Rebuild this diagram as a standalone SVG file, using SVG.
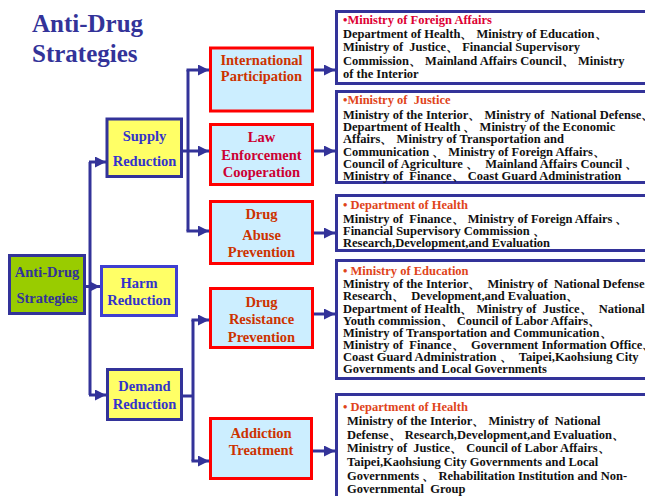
<svg xmlns="http://www.w3.org/2000/svg" width="645" height="496" viewBox="0 0 645 496" font-family="Liberation Serif, Times New Roman, serif" font-weight="bold">
<defs>
<style>
.title{font-size:25px;fill:#333399;}
.yb{fill:#ffff66;stroke:#333399;stroke-width:3;}
.yb2{fill:#ffff66;stroke:#3f3fd0;stroke-width:3;}
.gb{fill:#99cc00;stroke:#333399;stroke-width:3;}
.mb{fill:#cceeff;stroke:#ff0000;stroke-width:3;}
.rb{fill:#ffffff;stroke:#333399;stroke-width:3;}
.yt{font-size:14.5px;fill:#3333cc;text-anchor:middle;}
.gt{font-size:14.5px;fill:#333399;text-anchor:middle;}
.mt{font-size:14.5px;fill:#cc3300;text-anchor:middle;}
.mt2{font-size:14.5px;fill:#cc0033;text-anchor:middle;}
.rt{font-size:12.5px;fill:#111111;}
.h1{fill:#dd0033;}
.h2{fill:#e0441a;}
.con path{fill:none;stroke:#333399;stroke-width:3;}
.con path.a{marker-end:url(#arr);}
</style>
<marker id="arr" markerUnits="userSpaceOnUse" markerWidth="11" markerHeight="11" refX="11" refY="5.5" orient="auto">
<path d="M0,0 L11,5.5 L0,11 z" fill="#333399"/>
</marker>
</defs>
<rect width="645" height="496" fill="#ffffff"/>
<g id="title">
<text class="title" x="32" y="32">Anti-Drug</text>
<text class="title" x="32" y="62">Strategies</text>
</g>
<g class="con" id="connectors">
<path d="M90,162 V395"/>
<path class="a" d="M89,162 H106"/>
<path class="a" d="M86,286.5 H100"/>
<path class="a" d="M89,395 H106"/>
<path class="a" d="M183,151 H209"/>
<path d="M188,70 V231"/>
<path class="a" d="M186.5,70 H209"/>
<path class="a" d="M186.5,231 H209"/>
<path d="M183,396 H193"/>
<path d="M193,320 V461"/>
<path class="a" d="M191.5,320 H209"/>
<path class="a" d="M191.5,461 H209"/>
<path class="a" d="M314,70 H335"/>
<path class="a" d="M314,151 H335"/>
<path class="a" d="M314,233 H335"/>
<path class="a" d="M314,314 H335"/>
<path class="a" d="M313,451 H335"/>
</g>
<g id="anti-drug">
<rect class="gb" x="9.5" y="255.5" width="75" height="58"/>
<text class="gt" x="47" y="277">Anti-Drug</text>
<text class="gt" x="47" y="303">Strategies</text>
</g>
<g id="supply">
<rect class="yb" x="107" y="119" width="74.5" height="57.5"/>
<text class="yt" x="144.5" y="141">Supply</text>
<text class="yt" x="144.5" y="166">Reduction</text>
</g>
<g id="harm">
<rect class="yb2" x="101.5" y="266.5" width="75" height="49"/>
<text class="yt" x="139" y="288">Harm</text>
<text class="yt" x="139" y="305">Reduction</text>
</g>
<g id="demand">
<rect class="yb" x="107.5" y="369.5" width="74" height="50"/>
<text class="yt" x="144.5" y="391">Demand</text>
<text class="yt" x="144.5" y="409">Reduction</text>
</g>
<g id="international">
<rect class="mb" x="210.5" y="48" width="102" height="63"/>
<text class="mt" x="261.5" y="65">International</text>
<text class="mt" x="261.5" y="81">Participation</text>
</g>
<g id="law">
<rect class="mb" x="210.5" y="124.5" width="102" height="60"/>
<text class="mt2" x="261.5" y="142">Law</text>
<text class="mt2" x="261.5" y="160">Enforcement</text>
<text class="mt2" x="261.5" y="177">Cooperation</text>
</g>
<g id="abuse">
<rect class="mb" x="210.5" y="201.5" width="102" height="62"/>
<text class="mt" x="261.5" y="219">Drug</text>
<text class="mt" x="261.5" y="240">Abuse</text>
<text class="mt" x="261.5" y="257">Prevention</text>
</g>
<g id="resistance">
<rect class="mb" x="210.5" y="288.5" width="102" height="59"/>
<text class="mt" x="261.5" y="307">Drug</text>
<text class="mt" x="261.5" y="324">Resistance</text>
<text class="mt" x="261.5" y="342">Prevention</text>
</g>
<g id="addiction">
<rect class="mb" x="210.5" y="418.5" width="101" height="60"/>
<text class="mt" x="261" y="438">Addiction</text>
<text class="mt" x="261" y="455">Treatment</text>
</g>
<g id="org1">
<rect class="rb" x="336.5" y="11.5" width="320" height="72"/>
<text class="rt h1" x="343" y="24">•Ministry of Foreign Affairs</text>
<text class="rt" x="343" y="37.5">Department of Health、 Ministry of Education、</text>
<text class="rt" x="343" y="51" xml:space="preserve">Ministry of  Justice、 Financial Supervisory</text>
<text class="rt" x="343" y="65">Commission、 Mainland Affairs Council、 Ministry</text>
<text class="rt" x="343" y="78">of the Interior</text>
</g>
<g id="org2">
<rect class="rb" x="336.5" y="91.5" width="320" height="91"/>
<text class="rt h2" x="343" y="104" xml:space="preserve">•Ministry of  Justice</text>
<text class="rt" x="343" y="119" xml:space="preserve">Ministry of the Interior、 Ministry of  National Defense、</text>
<text class="rt" x="343" y="131">Department of Health 、 Ministry of the Economic</text>
<text class="rt" x="343" y="143">Affairs、 Ministry of Transportation and</text>
<text class="rt" x="343" y="156">Communication 、 Ministry of Foreign Affairs、</text>
<text class="rt" x="343" y="168" xml:space="preserve">Council of Agriculture 、  Mainland Affairs Council 、</text>
<text class="rt" x="343" y="180" xml:space="preserve">Ministry of  Finance、 Coast Guard Administration</text>
</g>
<g id="org3">
<rect class="rb" x="336.5" y="195.5" width="320" height="55"/>
<text class="rt h2" x="343" y="209">• Department of Health</text>
<text class="rt" x="343" y="223" xml:space="preserve">Ministry of  Finance、 Ministry of Foreign Affairs 、</text>
<text class="rt" x="343" y="235">Financial Supervisory Commission 、</text>
<text class="rt" x="343" y="247">Research,Development,and Evaluation</text>
</g>
<g id="org4">
<rect class="rb" x="336.5" y="260.5" width="320" height="118"/>
<text class="rt h2" x="343" y="275">• Ministry of Education</text>
<text class="rt" x="343" y="288" xml:space="preserve">Ministry of the Interior、  Ministry of  National Defense、</text>
<text class="rt" x="343" y="300" xml:space="preserve">Research、  Development,and Evaluation、</text>
<text class="rt" x="343" y="313" xml:space="preserve">Department of Health、 Ministry of  Justice、  National</text>
<text class="rt" x="343" y="325">Youth commission、 Council of Labor Affairs、</text>
<text class="rt" x="343" y="337">Ministry of Transportation and Communication、</text>
<text class="rt" x="343" y="349" xml:space="preserve">Ministry of  Finance、  Government Information Office、</text>
<text class="rt" x="343" y="361" xml:space="preserve">Coast Guard Administration 、  Taipei,Kaohsiung City</text>
<text class="rt" x="343" y="373">Governments and Local Governments</text>
</g>
<g id="org5">
<rect class="rb" x="336.5" y="394.5" width="320" height="112"/>
<text class="rt h2" x="343" y="411">• Department of Health</text>
<text class="rt" x="347" y="425" xml:space="preserve">Ministry of the Interior、 Ministry of  National</text>
<text class="rt" x="347" y="439" xml:space="preserve">Defense、 Research,Development,and Evaluation、</text>
<text class="rt" x="347" y="452" xml:space="preserve">Ministry of  Justice、 Council of Labor Affairs、</text>
<text class="rt" x="347" y="466">Taipei,Kaohsiung City Governments and Local</text>
<text class="rt" x="347" y="480" xml:space="preserve">Governments 、 Rehabilitation Institution and Non-</text>
<text class="rt" x="347" y="493" xml:space="preserve">Governmental  Group</text>
</g>
</svg>
